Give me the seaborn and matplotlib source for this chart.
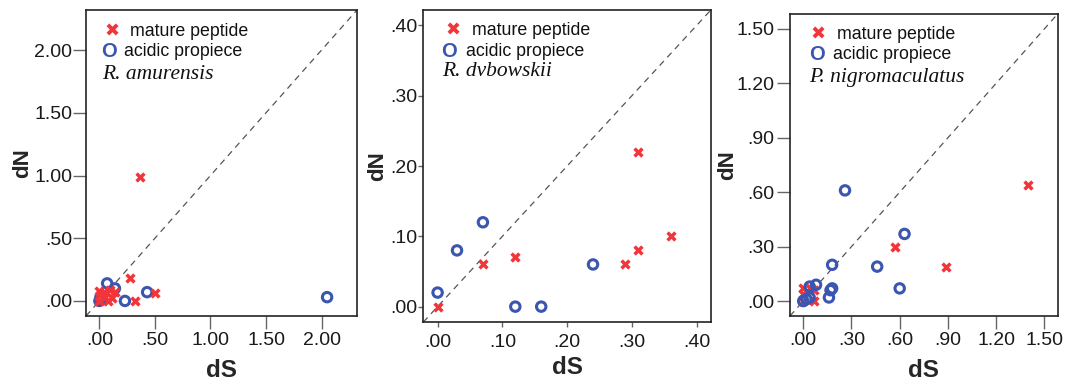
import numpy as np
import pandas as pd
import matplotlib
matplotlib.use("Agg")
import matplotlib.pyplot as plt
import seaborn as sns

# ---------------- data ----------------
species = ["R. amurensis", "R. dvbowskii", "P. nigromaculatus"]

# Panel 1: R. amurensis
amu_mature_dS = [0.37, 0.28, 0.50, 0.32, 0.00, 0.01, 0.04, 0.10, 0.14, 0.08, 0.11, 0.00, 0.05]
amu_mature_dN = [0.99, 0.18, 0.06, 0.00, 0.08, 0.05, 0.07, 0.09, 0.07, 0.00, 0.02, 0.00, 0.03]
amu_acidic_dS = [2.05, 0.43, 0.23, 0.07, 0.14, 0.00, 0.01, 0.02]
amu_acidic_dN = [0.03, 0.07, 0.00, 0.14, 0.10, 0.00, 0.03, 0.01]

# Panel 2: R. dybowskii
dyb_mature_dS = [0.00, 0.07, 0.12, 0.29, 0.31, 0.31, 0.36]
dyb_mature_dN = [0.00, 0.06, 0.07, 0.06, 0.08, 0.22, 0.10]
dyb_acidic_dS = [0.00, 0.03, 0.07, 0.12, 0.16, 0.24]
dyb_acidic_dN = [0.02, 0.08, 0.12, 0.00, 0.00, 0.06]

# Panel 3: P. nigromaculatus
nig_mature_dS = [1.40, 0.57, 0.89, 0.00, 0.00, 0.07, 0.04, 0.07, 0.00]
nig_mature_dN = [0.64, 0.30, 0.19, 0.07, 0.04, 0.00, 0.07, 0.06, 0.00]
nig_acidic_dS = [0.26, 0.63, 0.18, 0.46, 0.60, 0.17, 0.16, 0.18, 0.08, 0.04, 0.00, 0.04, 0.02]
nig_acidic_dN = [0.61, 0.37, 0.20, 0.19, 0.07, 0.06, 0.02, 0.07, 0.09, 0.08, 0.00, 0.02, 0.01]

amu_ticks = [0.0, 0.5, 1.0, 1.5, 2.0]
amu_ticklabels = [".00", ".50", "1.00", "1.50", "2.00"]
dyb_ticks = [0.0, 0.1, 0.2, 0.3, 0.4]
dyb_ticklabels = [".00", ".10", ".20", ".30", ".40"]
nig_ticks = [0.0, 0.3, 0.6, 0.9, 1.2, 1.5]
nig_ticklabels = [".00", ".30", ".60", ".90", "1.20", "1.50"]

series_labels = ["mature peptide", "acidic propiece"]

# ---------------- style ----------------
sns.set_style("ticks")
plt.rcParams["font.family"] = ["Liberation Sans", "DejaVu Sans"]

RED = "#f2353a"
BLUE = "#3a56b0"

fig = plt.figure(figsize=(10.65, 3.83), dpi=100)

panels = [
    dict(pos=[0.0808, 0.175, 0.2545, 0.799], lim=(-0.12, 2.32),
         m=(amu_mature_dS, amu_mature_dN), a=(amu_acidic_dS, amu_acidic_dN),
         ticks=amu_ticks, labels=amu_ticklabels, red_top=True,
         tlen=9.5, xpad=2.0, ypad=0.5, xlp=7.5, ylp=0.5,
         leg=dict(rx=0.096, ry=0.931, rt=0.162, bx=0.085, by=0.863, bt=0.140, sx=0.059, sy=0.79)),
    dict(pos=[0.3975, 0.159, 0.270, 0.815], lim=(-0.022, 0.422),
         m=(dyb_mature_dS, dyb_mature_dN), a=(dyb_acidic_dS, dyb_acidic_dN),
         ticks=dyb_ticks, labels=dyb_ticklabels, red_top=True,
         tlen=3.5, xpad=5.0, ypad=0.5, xlp=4.0, ylp=1.5,
         leg=dict(rx=0.102, ry=0.935, rt=0.168, bx=0.090, by=0.866, bt=0.148, sx=0.067, sy=0.802)),
    dict(pos=[0.7418, 0.175, 0.2514, 0.789], lim=(-0.082, 1.583),
         m=(nig_mature_dS, nig_mature_dN), a=(nig_acidic_dS, nig_acidic_dN),
         ticks=nig_ticks, labels=nig_ticklabels, red_top=False,
         tlen=9.5, xpad=2.0, ypad=1.5, xlp=7.0, ylp=-1.0,
         leg=dict(rx=0.106, ry=0.930, rt=0.174, bx=0.100, by=0.864, bt=0.162, sx=0.072, sy=0.789)),
]

for p, sp in zip(panels, species):
    ax = fig.add_axes(p["pos"])
    dfm = pd.DataFrame({"dS": p["m"][0], "dN": p["m"][1]})
    dfa = pd.DataFrame({"dS": p["a"][0], "dN": p["a"][1]})

    def draw_red(z):
        sns.scatterplot(data=dfm, x="dS", y="dN", ax=ax, marker="x", s=32,
                        color=RED, linewidth=2.5, zorder=z)

    def draw_blue(z):
        sns.scatterplot(data=dfa, x="dS", y="dN", ax=ax, marker="o", s=46,
                        facecolor="none", edgecolor=BLUE, linewidth=2.2, zorder=z)

    if p["red_top"]:
        draw_blue(3); draw_red(4)
    else:
        draw_red(3); draw_blue(4)

    lo, hi = p["lim"]
    ax.set_xlim(lo, hi)
    ax.set_ylim(lo, hi)
    ax.axline((0, 0), slope=1, color="#555555", lw=0.9, ls=(0, (5, 4)), zorder=2)

    ax.set_xticks(p["ticks"])
    ax.set_xticklabels(p["labels"])
    ax.set_yticks(p["ticks"])
    ax.set_yticklabels(p["labels"])
    ax.tick_params(axis="both", direction="out", length=p["tlen"], width=1.0,
                   color="#666666", labelsize=14, labelcolor="#1a1a1a")
    ax.tick_params(axis="x", pad=p["xpad"])
    ax.tick_params(axis="y", pad=p["ypad"])
    for s in ax.spines.values():
        s.set_visible(True)
        s.set_linewidth(1.2)
        s.set_color("#222222")

    ax.set_xlabel("dS", fontsize=17.5, fontweight="bold", labelpad=p["xlp"])
    ax.set_ylabel("dN", fontsize=16, fontweight="bold", labelpad=p["ylp"])

    L = p["leg"]
    ax.text(L["rx"], L["ry"], "\u2716", transform=ax.transAxes, color=RED,
            fontsize=13, ha="center", va="center", family=["DejaVu Sans"])
    ax.text(L["rt"], L["ry"], series_labels[0], transform=ax.transAxes,
            fontsize=12.75, ha="left", va="center", color="#111111")
    ax.text(L["bx"], L["by"], "O", transform=ax.transAxes, color=BLUE,
            fontsize=14.5, ha="center", va="center", fontweight="bold")
    ax.text(L["bt"], L["by"], series_labels[1], transform=ax.transAxes,
            fontsize=12.75, ha="left", va="center", color="#111111")
    ax.text(L["sx"], L["sy"], sp, transform=ax.transAxes, fontsize=15.5,
            ha="left", va="center", style="italic",
            family=["Liberation Serif", "DejaVu Serif"], color="#111111")

fig.savefig("out.png", dpi=100)
